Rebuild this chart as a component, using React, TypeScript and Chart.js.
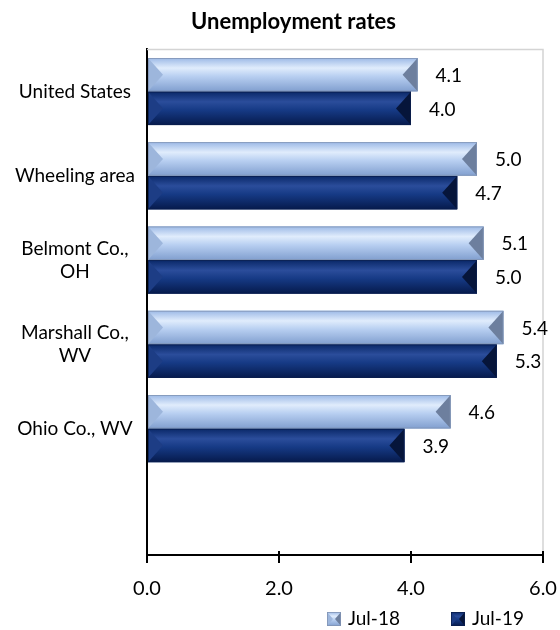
import React, { useEffect, useRef } from "react";
import { Chart, registerables } from "chart.js";

Chart.register(...registerables);

// ---- data ----
const categories: (string | string[])[] = [
  "United States",
  "Wheeling area",
  ["Belmont Co.,", "OH"],
  ["Marshall Co.,", "WV"],
  "Ohio Co., WV",
  "",
];
const seriesNames = ["Jul-18", "Jul-19"];
const jul18: (number | null)[] = [4.1, 5.0, 5.1, 5.4, 4.6, null];
const jul19: (number | null)[] = [4.0, 4.7, 5.0, 5.3, 3.9, null];
const xTickValues = [0, 2, 4, 6];

// ---- styles ----
const FONT = "Lato, 'Open Sans', sans-serif";

type Palette = {
  base: string;
  face: [number, string][];
  left: string;
  right: string;
  edge: string;
};

const palettes: Palette[] = [
  {
    base: "#A9C4EB",
    face: [
      [0, "#9CB9E6"],
      [0.3, "#E0ECFC"],
      [0.55, "#B8CFF1"],
      [1, "#819FCF"],
    ],
    left: "#9DB6DC",
    right: "#6D7F9E",
    edge: "#8194B4",
  },
  {
    base: "#13307A",
    face: [
      [0, "#0A2868"],
      [0.3, "#2B4D9B"],
      [0.55, "#163A85"],
      [1, "#061A4C"],
    ],
    left: "#1D3D85",
    right: "#06153A",
    edge: "#0A1E4E",
  },
];

function drawBevel(
  ctx: CanvasRenderingContext2D,
  x0: number,
  x1: number,
  yT: number,
  yB: number,
  p: Palette,
  dMax: number
) {
  const h = yB - yT;
  const w = x1 - x0;
  if (w <= 0 || h <= 0) return;
  const ym = yT + h * 0.5;
  const d = Math.min(dMax, h * 0.5, w / 2);
  const g = ctx.createLinearGradient(0, yT, 0, yB);
  p.face.forEach(([o, c]) => g.addColorStop(o, c));
  ctx.save();
  ctx.fillStyle = g;
  ctx.fillRect(x0, yT, w, h);
  ctx.fillStyle = p.left;
  ctx.beginPath();
  ctx.moveTo(x0, yT);
  ctx.lineTo(x0 + d, ym);
  ctx.lineTo(x0, yB);
  ctx.closePath();
  ctx.fill();
  ctx.fillStyle = p.right;
  ctx.beginPath();
  ctx.moveTo(x1, yT);
  ctx.lineTo(x1 - d, ym);
  ctx.lineTo(x1, yB);
  ctx.closePath();
  ctx.fill();
  ctx.strokeStyle = p.edge;
  ctx.lineWidth = 0.8;
  ctx.strokeRect(x0 + 0.4, yT + 0.4, w - 0.8, h - 0.8);
  ctx.restore();
}

const bevelPlugin = {
  id: "bevelBars",
  afterLayout(chart: any) {
    // shift the title block so it sits where the reference title sits
    const t = chart.titleBlock;
    if (t) {
      t.left = 44;
      t.right = 543;
    }
  },
  beforeDatasetsDraw(chart: any) {
    const { ctx, chartArea } = chart;
    ctx.save();
    ctx.strokeStyle = "#D4D4D4";
    ctx.lineWidth = 1.5;
    ctx.beginPath();
    ctx.moveTo(chartArea.left, chartArea.top);
    ctx.lineTo(chartArea.right, chartArea.top);
    ctx.lineTo(chartArea.right, chartArea.bottom);
    ctx.stroke();
    ctx.restore();
  },
  afterDatasetsDraw(chart: any) {
    const { ctx } = chart;
    chart.data.datasets.forEach((ds: any, di: number) => {
      const meta = chart.getDatasetMeta(di);
      meta.data.forEach((el: any, i: number) => {
        const v = ds.data[i];
        if (v == null) return;
        const { x, y, base, height } = el.getProps(["x", "y", "base", "height"], true);
        drawBevel(ctx, Math.min(base, x), Math.max(base, x), y - height / 2, y + height / 2, palettes[di], 15);
        ctx.save();
        ctx.fillStyle = "#000";
        ctx.font = `19px ${FONT}`;
        ctx.textAlign = "left";
        ctx.textBaseline = "middle";
        ctx.fillText(Number(v).toFixed(1), x + 18, y + 1);
        ctx.restore();
      });
    });
  },
  afterDraw(chart: any) {
    const { ctx, chartArea } = chart;
    const xs = chart.scales.x;
    // tick marks crossing above the axis
    ctx.save();
    ctx.strokeStyle = "#000";
    ctx.lineWidth = 2;
    xTickValues.forEach((t) => {
      const px = xs.getPixelForValue(t);
      ctx.beginPath();
      ctx.moveTo(px, chartArea.bottom - 4);
      ctx.lineTo(px, chartArea.bottom);
      ctx.stroke();
    });
    ctx.restore();
    // legend
    const cy = 619;
    chart.data.datasets.forEach((ds: any, di: number) => {
      const lx = 327 + di * 124;
      drawBevel(ctx, lx, lx + 14, cy - 7, cy + 7, palettes[di], 6);
      ctx.save();
      ctx.fillStyle = "#000";
      ctx.font = `19px ${FONT}`;
      ctx.textAlign = "left";
      ctx.textBaseline = "middle";
      ctx.fillText(ds.label, lx + 21, cy);
      ctx.restore();
    });
  },
};

export default function App() {
  const ref = useRef<HTMLCanvasElement | null>(null);
  useEffect(() => {
    if (!ref.current) return;
    const chart = new Chart(ref.current, {
      type: "bar",
      data: {
        labels: categories,
        datasets: [
          {
            label: seriesNames[0],
            data: jul18,
            backgroundColor: palettes[0].base,
            borderWidth: 0,
            categoryPercentage: 0.8,
            barPercentage: 0.99,
          },
          {
            label: seriesNames[1],
            data: jul19,
            backgroundColor: palettes[1].base,
            borderWidth: 0,
            categoryPercentage: 0.8,
            barPercentage: 0.99,
          },
        ],
      },
      options: {
        indexAxis: "y",
        animation: false,
        responsive: true,
        maintainAspectRatio: false,
        layout: { padding: { left: 0, right: 17, top: 0, bottom: 0 } },
        plugins: {
          legend: { display: false },
          tooltip: { enabled: false },
          title: {
            display: true,
            text: "Unemployment rates",
            color: "#000",
            font: { family: FONT, size: 22, weight: "bold" },
            padding: { top: 9, bottom: 14 },
          },
        },
        scales: {
          x: {
            type: "linear",
            min: 0,
            max: 6,
            ticks: {
              stepSize: 2,
              color: "#000",
              font: { family: FONT, size: 20 },
              padding: 14,
              callback: (v: any) => Number(v).toFixed(1),
            },
            grid: {
              display: true,
              drawOnChartArea: false,
              drawTicks: true,
              tickLength: 8,
              tickColor: "#000",
              lineWidth: 2,
            },
            border: { display: true, color: "#000", width: 2 },
            afterFit: (s: any) => {
              s.height = 75;
              s.paddingLeft = 0;
              s.paddingRight = 0;
            },
          },
          y: {
            ticks: {
              color: "#000",
              font: { family: FONT, size: 19 },
              crossAlign: "center",
              padding: 12,
            },
            grid: { display: false, drawTicks: false },
            border: { display: true, color: "#000", width: 2 },
            afterFit: (s: any) => {
              s.width = 147;
            },
          },
        },
      },
      plugins: [bevelPlugin],
    });
    return () => chart.destroy();
  }, []);
  return (
    <div style={{ position: "absolute", left: 0, top: 0, width: 560, height: 630 }}>
      <canvas ref={ref} />
    </div>
  );
}
